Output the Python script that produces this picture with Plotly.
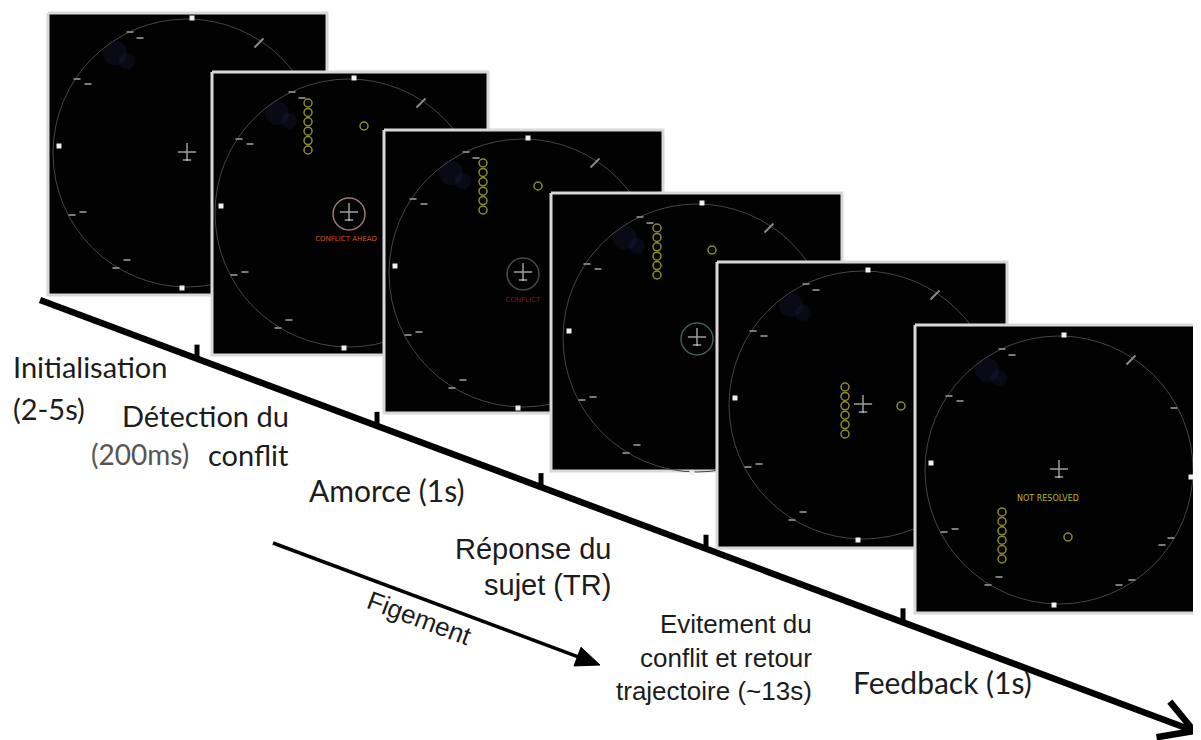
import math
import plotly.graph_objects as go

# ---------------- content ----------------
phase_lines = [["Initialisation", "(2-5s)"],
               ["Détection du", "(200ms)", "conflit"],
               ["Amorce (1s)"],
               ["Réponse du", "sujet (TR)"],
               ["Evitement du", "conflit et retour", "trajectoire (~13s)"],
               ["Feedback (1s)"]]
freeze_label = "Figement"
screen_messages = ["", "CONFLICT AHEAD", "CONFLICT", "", "", "NOT RESOLVED"]
screen_msg_colors = ["#000000", "#d0551e", "#7a1a22", "#000000", "#000000", "#b5b52e"]
halo_colors = [None, "#9a7a78", "#4a4a4a", "#3e5e5c", None, None]
n_rings = [0, 6, 6, 6, 6, 6]

# ---------------- layout geometry ----------------
W, H = 1201, 740
OFF = 8  # default page body margin
scr_l = [48, 212, 384, 551, 717, 915]
scr_t = [13, 72, 130, 193, 262, 325]
scr_r = [327, 488, 663, 842, 1007, 1196]
scr_b = [295, 355, 413, 471, 548, 613]
ctr_x = [187, 349, 523, 697, 863, 1059]
ctr_y = [153, 213, 273, 338, 405, 470]
col_dx = [0, -41, -40, -40, -18, -57]
col_dy0 = [0, -110, -110, -110, -18, 42]
ring_dx = [0, 15, 15, 15, 38, 9]
ring_dy = [0, -87, -87, -88, 1, 67]
msg_dy = [0, 26, 27, 0, 0, 29]
msg_dx = [0, -3, 0, 0, 0, -11]
msg_size = [7, 7, 7, 7, 7, 8]

# radar marks relative to circle center
white_dx = [5, -5, -128, 132]
white_dy = [-135, 135, -7, 7]
grey_dx = [-57, -47, -110, -99, -115, -104, -71, -60, 115, 112, 103, 60, 73]
grey_dy = [-121, -115, -74, -69, 62, 59, 115, 107, -62, 68, 75, 115, 110]

fig = go.Figure()

for i in range(6):
    l, t, r, b = scr_l[i], scr_t[i], scr_r[i], scr_b[i]
    cx, cy = ctr_x[i], ctr_y[i]
    # screen
    fig.add_trace(go.Scatter(x=[l, r, r, l, l], y=[t, t, b, b, t], mode="lines",
                             fill="toself", fillcolor="#020202",
                             line=dict(color="#d8d8d8", width=3), hoverinfo="skip"))
    # bluish blob
    fig.add_trace(go.Scatter(x=[cx - 72, cx - 60], y=[cy - 100, cy - 92], mode="markers",
                             marker=dict(size=[24, 16], color="rgba(40,40,100,0.32)", line=dict(width=0)),
                             hoverinfo="skip"))
    # radar circle
    fig.add_trace(go.Scatter(x=[cx], y=[cy], mode="markers",
                             marker=dict(symbol="circle-open", size=268, color="#454545",
                                         line=dict(width=1, color="#454545")),
                             hoverinfo="skip"))
    # white beacons
    fig.add_trace(go.Scatter(x=[cx + d for d in white_dx], y=[cy + d for d in white_dy], mode="markers",
                             marker=dict(symbol="square", size=5, color="#f0f0f0"), hoverinfo="skip"))
    # grey marks
    fig.add_trace(go.Scatter(x=[cx + d for d in grey_dx], y=[cy + d for d in grey_dy], mode="markers",
                             marker=dict(symbol="line-ew-open", size=5, color="#7a7a7a",
                                         line=dict(width=2, color="#7a7a7a")), hoverinfo="skip"))
    fig.add_trace(go.Scatter(x=[cx + 72], y=[cy - 110], mode="markers",
                             marker=dict(symbol="line-ne-open", size=9, color="#8a8a8a",
                                         line=dict(width=2, color="#8a8a8a")), hoverinfo="skip"))
    # halo
    if halo_colors[i]:
        fig.add_trace(go.Scatter(x=[cx], y=[cy + 1], mode="markers",
                                 marker=dict(symbol="circle-open", size=32, color=halo_colors[i],
                                             line=dict(width=1.5, color=halo_colors[i])), hoverinfo="skip"))
    # own aircraft (cross)
    fig.add_trace(go.Scatter(x=[cx, cx], y=[cy - 1, cy + 7], mode="markers",
                             marker=dict(symbol=["cross-thin-open", "line-ew-open"], size=[13, 6],
                                         color="#e0e0e0", line=dict(width=1.5, color="#e0e0e0")),
                             hoverinfo="skip"))
    # yellow rings
    if n_rings[i]:
        fig.add_trace(go.Scatter(x=[cx + col_dx[i]] * n_rings[i],
                                 y=[cy + col_dy0[i] + 9.4 * k for k in range(n_rings[i])],
                                 mode="markers",
                                 marker=dict(symbol="circle-open", size=8, color="#8c8c2c",
                                             line=dict(width=1.5, color="#8c8c2c")), hoverinfo="skip"))
        fig.add_trace(go.Scatter(x=[cx + ring_dx[i]], y=[cy + ring_dy[i]], mode="markers",
                                 marker=dict(symbol="circle-open", size=8, color="#8c8c2c",
                                             line=dict(width=1.5, color="#8c8c2c")), hoverinfo="skip"))
    if screen_messages[i]:
        fig.add_trace(go.Scatter(x=[cx + msg_dx[i]], y=[cy + msg_dy[i]], mode="text",
                                 text=[screen_messages[i]],
                                 textfont=dict(size=msg_size[i], color=screen_msg_colors[i],
                                               family="DejaVu Sans"),
                                 hoverinfo="skip"))

# ---------------- timeline ----------------
x0, y0, x1, y1 = 40, 300, 1194, 731
slope = (y1 - y0) / (x1 - x0)
fig.add_trace(go.Scatter(x=[x0, x1 - 4], y=[y0, y0 + slope * (x1 - 4 - x0)], mode="lines",
                         line=dict(color="#000000", width=6.5), hoverinfo="skip"))
ang = math.atan2(y1 - y0, x1 - x0)
hl = 38
wx, wy = [], []
for s in (1, -1):
    a = ang + math.pi + s * math.radians(30)
    wx += [x1 + hl * math.cos(a), x1, None]
    wy += [y1 + hl * math.sin(a), y1, None]
fig.add_trace(go.Scatter(x=wx, y=wy, mode="lines", line=dict(color="#000000", width=6.5),
                         hoverinfo="skip"))
tick_x = [197, 377, 541, 706, 903]
tx, ty = [], []
for xv in tick_x:
    yl = y0 + slope * (xv - x0)
    tx += [xv, xv, None]
    ty += [yl - 14, yl, None]
fig.add_trace(go.Scatter(x=tx, y=ty, mode="lines", line=dict(color="#000000", width=5),
                         hoverinfo="skip"))

# freeze arrow
fx0, fy0, fx1, fy1 = 273, 543, 600, 665
fa = math.atan2(fy1 - fy0, fx1 - fx0)
hlen, hw = 24, 10
bx, by = fx1 - hlen * math.cos(fa), fy1 - hlen * math.sin(fa)
fig.add_trace(go.Scatter(x=[fx0, bx], y=[fy0, by], mode="lines",
                         line=dict(color="#000000", width=3.5), hoverinfo="skip"))
fig.add_trace(go.Scatter(x=[fx1, bx + hw * math.sin(fa), bx - hw * math.sin(fa), fx1],
                         y=[fy1, by - hw * math.cos(fa), by + hw * math.cos(fa), fy1],
                         mode="lines", fill="toself", fillcolor="#000000",
                         line=dict(color="#000000", width=1), hoverinfo="skip"))

# ---------------- labels ----------------
CAL = "Lato, Carlito, sans-serif"
ARI = "Liberation Sans, Arial, sans-serif"
TXT = "#1c1c1c"
labels = [
    (phase_lines[0][0], 11, 366, "left", CAL, 29, TXT),
    (phase_lines[0][1], 11, 408, "left", CAL, 29, TXT),
    (phase_lines[1][0], 291, 415, "right", CAL, 29, TXT),
    (phase_lines[1][1], 89, 454, "left", CAL, 28, "#555555"),
    (phase_lines[1][2], 291, 454, "right", CAL, 29, TXT),
    (phase_lines[2][0], 307, 490, "left", CAL, 30, TXT),
    (phase_lines[3][0], 613, 549, "right", ARI, 29, TXT),
    (phase_lines[3][1], 613, 585, "right", ARI, 29, TXT),
    (phase_lines[4][0], 814, 624, "right", ARI, 26, TXT),
    (phase_lines[4][1], 814, 658, "right", ARI, 26, TXT),
    (phase_lines[4][2], 814, 691, "right", ARI, 26, TXT),
    (phase_lines[5][0], 851, 682, "left", CAL, 30, TXT),
]
for txt, x, y, anc, fam, sz, col in labels:
    fig.add_annotation(x=x, y=y, text=txt, showarrow=False, xanchor=anc, yanchor="middle",
                       font=dict(family=fam, size=sz, color=col))
fig.add_annotation(x=419, y=618, text=freeze_label, showarrow=False, textangle=20.5,
                   xanchor="center", yanchor="middle",
                   font=dict(family=ARI, size=26, color=TXT))

fig.update_layout(width=W - OFF, height=H - OFF, autosize=False, showlegend=False,
                  margin=dict(l=0, r=0, t=0, b=0),
                  paper_bgcolor="#ffffff", plot_bgcolor="#ffffff",
                  xaxis=dict(range=[OFF, W], visible=False, fixedrange=True),
                  yaxis=dict(range=[H, OFF], visible=False, fixedrange=True))
fig.write_html("out.html")
